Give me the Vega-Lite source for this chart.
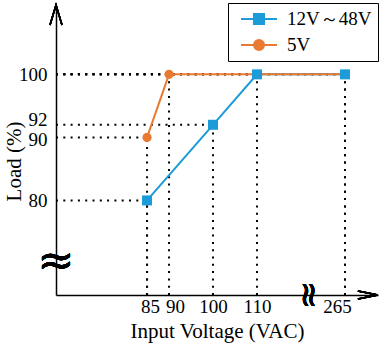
{
  "$schema": "https://vega.github.io/schema/vega-lite/v6.json",
  "width": 322,
  "height": 290,
  "autosize": "none",
  "padding": {"left": 56, "top": 5, "right": 1, "bottom": 49},
  "background": "white",
  "config": {
    "view": {"stroke": null},
    "font": "Liberation Serif",
    "axis": {"domainColor": "black", "domainWidth": 1.5, "ticks": false, "grid": false, "labelColor": "black", "titleColor": "black", "titleFontWeight": "normal", "labelFont": "Liberation Serif", "titleFont": "Liberation Serif", "labelFontSize": 20, "titleFontSize": 21, "labelOverlap": false}
  },
  "data": {"values": [
    {"series": "12V～48V", "voltage": 85, "load": 80},
    {"series": "12V～48V", "voltage": 100, "load": 92},
    {"series": "12V～48V", "voltage": 110, "load": 100},
    {"series": "12V～48V", "voltage": 265, "load": 100},
    {"series": "5V", "voltage": 85, "load": 90},
    {"series": "5V", "voltage": 90, "load": 100},
    {"series": "5V", "voltage": 265, "load": 100}
  ]},
  "encoding": {
    "x": {"field": "voltage", "type": "quantitative",
      "scale": {"domain": [64.3, 110, 265, 272.5], "range": [0, 201, 289, 322], "nice": false, "zero": false, "clamp": false},
      "axis": {"values": [85, 90, 100, 110, 265], "title": "Input Voltage (VAC)", "labelPadding": 2, "titlePadding": 4, "labelFlush": false, "labelOverlap": false, "labelFontSize": 19,
        "labelOffset": {"condition": [{"test": "datum.value === 265", "value": -8}, {"test": "datum.value === 90", "value": 6}, {"test": "datum.value === 85", "value": 3}], "value": 0}}},
    "y": {"field": "load", "type": "quantitative",
      "scale": {"domain": [65, 111], "nice": false, "zero": false},
      "axis": {"values": [80, 90, 92, 100], "title": "Load (%)", "labelPadding": 9, "titlePadding": -6, "titleY": 156, "labelFlush": false, "labelOverlap": false, "labelFontSize": 19,
        "labelOffset": {"condition": [{"test": "datum.value === 92", "value": -5}, {"test": "datum.value === 90", "value": 2}], "value": 0}}}
  },
  "layer": [
    {"mark": {"type": "rule", "color": "black", "strokeWidth": 2, "strokeDash": [2, 5.3]},
     "encoding": {"x": {"datum": 64.3}, "x2": {"field": "voltage"}}},
    {"mark": {"type": "rule", "color": "black", "strokeWidth": 2, "strokeDash": [2, 5.3]},
     "encoding": {"y": {"datum": 65}, "y2": {"field": "load"}}},
    {"transform": [{"filter": "datum.series !== '5V'"}],
     "mark": {"type": "line", "color": "#1b9bd7", "strokeWidth": 2}},
    {"transform": [{"filter": "datum.series === '5V'"}],
     "mark": {"type": "line", "color": "#ea7a32", "strokeWidth": 2}},
    {"transform": [{"filter": "datum.series === '5V'"}],
     "mark": {"type": "point", "shape": "circle", "filled": true, "color": "#ea7a32", "size": 85, "opacity": 1}},
    {"transform": [{"filter": "datum.series !== '5V'"}],
     "mark": {"type": "point", "shape": "square", "filled": true, "color": "#1b9bd7", "size": 100, "opacity": 1}},
    {"mark": {"type": "point", "opacity": 0, "strokeWidth": 2},
     "encoding": {
       "shape": {"field": "series", "type": "nominal", "scale": {"domain": ["12V～48V", "5V"], "range": ["M -2 0 L 2 0 M -0.56 -0.56 L 0.56 -0.56 L 0.56 0.56 L -0.56 0.56 Z", "M -2 0 L 2 0 M -0.56 0 A 0.56 0.56 0 1 1 0.56 0 A 0.56 0.56 0 1 1 -0.56 0 Z"]},
         "legend": {"title": null, "orient": "none", "legendX": 172, "legendY": -2, "fillColor": "white", "strokeColor": "black", "padding": 6, "rowPadding": 6, "labelFont": "Liberation Serif", "labelFontSize": 19, "labelColor": "black", "symbolSize": 324, "symbolStrokeWidth": 2, "symbolOpacity": 1, "symbolOffset": 15, "labelOffset": 18}},
       "fill": {"field": "series", "type": "nominal", "scale": {"domain": ["12V～48V", "5V"], "range": ["#1b9bd7", "#ea7a32"]}},
       "stroke": {"field": "series", "type": "nominal", "scale": {"domain": ["12V～48V", "5V"], "range": ["#1b9bd7", "#ea7a32"]}}
     }},
    {"mark": {"type": "point", "shape": "M -0.6 1 L 0 -1 L 0.6 1", "filled": false, "color": "black", "strokeWidth": 1.5, "size": 400, "opacity": 1},
     "encoding": {"x": {"datum": 64.3}, "y": {"datum": 109.4}}},
    {"mark": {"type": "point", "shape": "M -1 -0.4 L 1 0 L -1 0.4", "filled": false, "color": "black", "strokeWidth": 1.5, "size": 400, "opacity": 1},
     "encoding": {"x": {"datum": 270.2}, "y": {"datum": 65}}},
    {"mark": {"type": "text", "text": "≈", "fontSize": 44, "font": "DejaVu Sans", "color": "black", "baseline": "middle", "align": "center"},
     "encoding": {"x": {"datum": 64.3}, "y": {"datum": 70.2}}},
    {"mark": {"type": "text", "text": "≈", "fontSize": 34, "font": "DejaVu Sans", "color": "black", "baseline": "middle", "align": "center", "angle": 90},
     "encoding": {"x": {"datum": 200}, "y": {"datum": 65}}}
  ]
}
